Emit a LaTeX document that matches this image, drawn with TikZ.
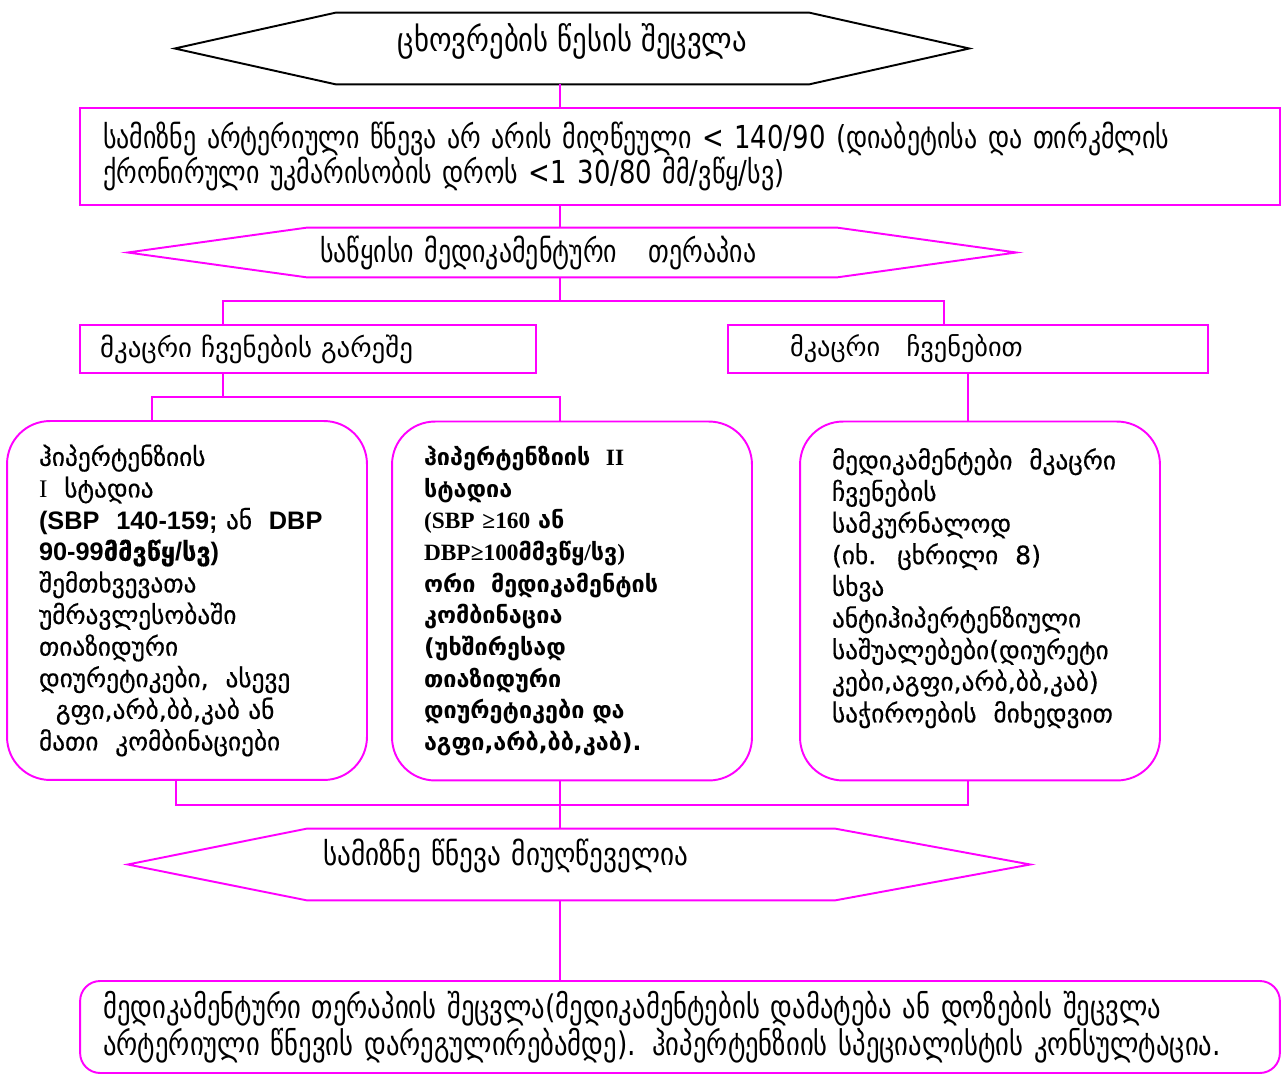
\documentclass[tikz,border=0pt]{standalone}
\usepackage{fontspec}
\setmainfont{DejaVu Sans}
\newfontfamily\narrowgeo[FakeStretch=0.82]{DejaVu Sans}
\newfontfamily\widegeo[FakeStretch=0.86]{DejaVu Sans}
\newfontfamily\heavygeo[FakeBold=0.45]{DejaVu Sans}
\newfontfamily\tnr{Liberation Serif}
\newfontfamily\arl{Liberation Sans}
\definecolor{flowpink}{RGB}{255,0,255}
\usetikzlibrary{positioning}
\usetikzlibrary{calc}

\begin{document}
\begin{tikzpicture}[x=0.02cm, y=-0.02cm,
            hexnode/.style={rectangle, inner sep=0pt, font=\narrowgeo\fontsize{18}{18}\selectfont},
            hexline/.style={draw=flowpink, line width=1.1pt},
            squarednode/.style={rectangle, draw=flowpink, line width=1.1pt, align=left, font=\fontsize{14.3}{18}\selectfont},
            roundednode/.style={rectangle, rounded corners=0.86cm, draw=flowpink, line width=1.1pt, align=left, text width=5.92cm, inner xsep=0.64cm, minimum height=7.18cm, font=\heavygeo\fontsize{14.4}{18}\selectfont},
            pinkline/.style={draw=flowpink, line width=0.9pt},
            ]

            \useasboundingbox (0,0) rectangle (1286,1074);

            % where the vertical connectors run
            \coordinate (spine) at (560,0);
            \coordinate (legL) at (223,0);
            \coordinate (legR) at (944,0);
            \coordinate (legA) at (152,0);
            \coordinate (footA) at (176,0);
            \coordinate (split) at (0,301);
            \coordinate (split2) at (0,397);
            \coordinate (merge) at (0,805);

            \node[hexnode, align=center, minimum width=9.46cm, minimum height=1.42cm, font=\widegeo\fontsize{19}{19}\selectfont] (life) at (572.5,48.5) {ცხოვრების წესის შეცვლა\\[-6pt]\mbox{}};
            \draw[hexline, draw=black] (life.north west) -- (life.north east) -- ([xshift=3.2cm]life.east) -- (life.south east) -- (life.south west) -- ([xshift=-3.22cm]life.west) -- cycle;

            \node[squarednode, line width=1.4pt, inner xsep=0.46cm, text width=23.08cm, minimum height=1.94cm, font=\narrowgeo\fontsize{18}{18}\selectfont] (target) at (680,156.5) {სამიზნე არტერიული წნევა არ არის მიღწეული < 140/90 (დიაბეტისა და თირკმლის\\ქრონირული უკმარისობის დროს <1 30/80 მმ/ვწყ/სვ)};

            \node[hexnode, align=left, inner xsep=0.26cm, text width=10.08cm, minimum height=0.98cm] (start) at (572,252.5) {საწყისი მედიკამენტური \ \ თერაპია};
            \draw[hexline] (start.north west) -- (start.north east) -- ([xshift=3.58cm]start.east) -- (start.south east) -- (start.south west) -- ([xshift=-3.58cm]start.west) -- cycle;

            \node[squarednode, inner xsep=0.4cm, text width=8.32cm, minimum height=0.96cm, font=\fontsize{15.3}{18}\selectfont] (noInd) at (308,349) {მკაცრი ჩვენების გარეშე};
            \node[squarednode, inner xsep=1.24cm, text width=7.12cm, minimum height=0.96cm, font=\fontsize{15}{18}\selectfont] (withInd) at (968,349) {მკაცრი \ \ ჩვენებით};

            \node[roundednode] (stageI) at (187,600.5) {ჰიპერტენზიის\\{\tnr I} \ სტადია\\{\arl\bfseries (SBP \ 140-159;} ან \ {\arl\bfseries DBP}\\{\arl\bfseries 90-99}{\bfseries მმვწყ}{\arl\bfseries /}{\bfseries სვ}{\arl\bfseries )}\\შემთხვევათა\\უმრავლესობაში\\თიაზიდური\\დიურეტიკები, \ ასევე\\\ \ გფი,არბ,ბბ,კაბ ან\\მათი \ კომბინაციები};
            \node[roundednode, font=\bfseries\fontsize{13.3}{18}\selectfont] (stageII) at (572,601) {ჰიპერტენზიის \ {\tnr II}\\სტადია\\{\tnr (SBP ≥160} ან\\{\tnr DBP≥100}მმვწყ{\tnr /}სვ{\tnr )}\\ორი \ მედიკამენტის\\კომბინაცია\\(უხშირესად\\თიაზიდური\\დიურეტიკები და\\აგფი,არბ,ბბ,კაბ).};
            \node[roundednode] (strict) at (980,601) {მედიკამენტები \ მკაცრი\\ჩვენების\\სამკურნალოდ\\(იხ. \ ცხრილი \ 8)\\სხვა\\ანტიჰიპერტენზიული\\საშუალებები(დიურეტი\\კები,აგფი,არბ,ბბ,კაბ)\\საჭიროების \ მიხედვით\\\mbox{}};

            \node[hexnode, align=left, inner xsep=0.32cm, text width=9.92cm, minimum height=1.42cm, font=\widegeo\fontsize{18}{18}\selectfont] (fail) at (571,864.5) {სამიზნე წნევა მიუღწეველია\\[-4pt]\mbox{}};
            \draw[hexline] (fail.north west) -- (fail.north east) -- ([xshift=3.9cm]fail.east) -- (fail.south east) -- (fail.south west) -- ([xshift=-3.58cm]fail.west) -- cycle;

            \node[squarednode, rounded corners=0.4cm, inner xsep=0.46cm, text width=23.08cm, minimum height=1.84cm, font=\narrowgeo\fontsize{18.5}{17}\selectfont] (change) at (680,1027) {მედიკამენტური თერაპიის შეცვლა(მედიკამენტების დამატება ან დოზების შეცვლა\\არტერიული წნევის დარეგულირებამდე). ჰიპერტენზიის სპეციალისტის კონსულტაცია.};

            \draw[pinkline] (life.south -| spine) -- (target.north -| spine);
            \draw[pinkline] (target.south -| spine) -- (start.north -| spine);
            \draw[pinkline] (start.south -| spine) -- (split -| spine);
            \draw[pinkline] (noInd.north -| legL) |- (split -| legR) -- (withInd.north -| legR);
            \draw[pinkline] (noInd.south -| legL) -- (split2 -| legL);
            \draw[pinkline] (stageI.north -| legA) |- (split2 -| spine) -- (stageII.north -| spine);
            \draw[pinkline] (withInd.south) -- (withInd.south |- strict.north);
            \draw[pinkline] (stageI.south -| footA) |- (merge -| withInd.south) -- (withInd.south |- strict.south);
            \draw[pinkline] (stageII.south -| spine) -- (fail.north -| spine);
            \draw[pinkline] (fail.south -| spine) -- (change.north -| spine);
        \end{tikzpicture}
\end{document}
